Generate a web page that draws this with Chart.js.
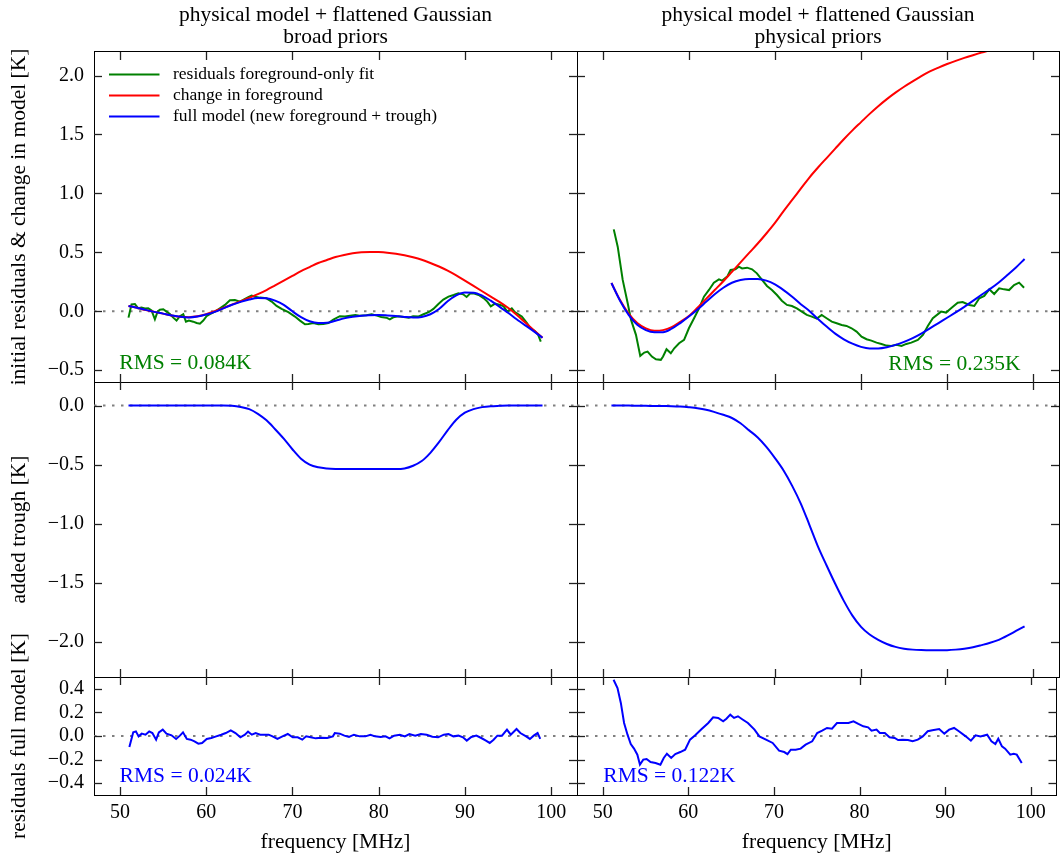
<!DOCTYPE html>
<html>
<head>
<meta charset="utf-8">
<script src="https://cdn.jsdelivr.net/npm/chart.js@4.4.0/dist/chart.umd.min.js"></script>
<style>
  body { margin: 0; background: #fff; }
  #wrap { position: relative; width: 1060px; height: 856px; }
  #wrap canvas { position: absolute; left: 0; top: 0; }
</style>
</head>
<body>
<div id="wrap">
  <canvas id="tl" width="1060" height="856"></canvas>
  <canvas id="tr" width="1060" height="856"></canvas>
  <canvas id="ml" width="1060" height="856"></canvas>
  <canvas id="mr" width="1060" height="856"></canvas>
  <canvas id="bl" width="1060" height="856"></canvas>
  <canvas id="br" width="1060" height="856"></canvas>
</div>
<script>
// frequency grid (MHz) for the smooth model curves
const freqGrid = [51, 52, 53, 54, 55, 56, 57, 58, 59, 60, 61, 62, 63, 64, 65, 66, 67, 68, 69, 70,
  71, 72, 73, 74, 75, 76, 77, 78, 79, 80, 81, 82, 83, 84, 85, 86, 87, 88, 89, 90,
  91, 92, 93, 94, 95, 96, 97, 98, 99];

// axis ticks
const freqTicks = [50, 60, 70, 80, 90, 100];
const topTicks = [-0.5, 0, 0.5, 1, 1.5, 2];
const midTicks = [-2, -1.5, -1, -0.5, 0];
const botTicks = [-0.4, -0.2, 0, 0.2, 0.4];

// broad priors (left column)
const fgChangeBroad = [0.045, 0.03, 0.01, -0.005, -0.02, -0.035, -0.047, -0.05, -0.043, -0.025,
  0.0, 0.028, 0.057, 0.085, 0.115, 0.145, 0.18, 0.22, 0.26, 0.3, 0.34, 0.375, 0.41, 0.435, 0.46,
  0.478, 0.492, 0.5, 0.504, 0.502, 0.497, 0.488, 0.475, 0.458, 0.437, 0.41, 0.38, 0.345, 0.305,
  0.26, 0.215, 0.17, 0.125, 0.08, 0.03, -0.03, -0.095, -0.16, -0.225];
const fullModelBroad = [0.045, 0.03, 0.012, -0.005, -0.02, -0.035, -0.047, -0.052, -0.045, -0.028,
  -0.005, 0.025, 0.055, 0.08, 0.1, 0.112, 0.11, 0.09, 0.055, 0.0, -0.05, -0.085, -0.1, -0.098,
  -0.08, -0.06, -0.047, -0.038, -0.034, -0.032, -0.035, -0.04, -0.048, -0.053, -0.048, -0.025,
  0.02, 0.085, 0.135, 0.16, 0.158, 0.133, 0.09, 0.04, -0.012, -0.068, -0.12, -0.17, -0.225];
const troughBroad = [0, 0, 0, 0, 0, 0, 0, 0, 0, 0, 0, 0, -0.002, -0.012, -0.03, -0.07, -0.125,
  -0.2, -0.28, -0.37, -0.45, -0.5, -0.523, -0.533, -0.537, -0.538, -0.538, -0.538, -0.538, -0.538,
  -0.538, -0.538, -0.533, -0.51, -0.47, -0.4, -0.31, -0.21, -0.12, -0.06, -0.03, -0.013, -0.005,
  -0.002, 0, 0, 0, 0, 0];
const resFgBroad = [[51.0, -0.054], [51.35, 0.059], [51.74, 0.062], [52.13, 0.025], [52.5, 0.031],
  [52.9, 0.023], [53.29, 0.025], [53.67, 0.008], [54.06, -0.068], [54.37, -0.003], [54.64, 0.014],
  [55.03, 0.017], [55.41, -0.003], [55.8, -0.023], [56.19, -0.054], [56.57, -0.079], [56.96, -0.042],
  [57.35, -0.025], [57.66, -0.088], [58.0, -0.079], [58.5, -0.088], [58.9, -0.099], [59.28, -0.105],
  [59.67, -0.079], [60.05, -0.042], [60.44, -0.025], [61.02, -0.003], [61.6, 0.025], [62.18, 0.054],
  [62.76, 0.093], [63.34, 0.096], [63.92, 0.082], [64.3, 0.096], [64.89, 0.121], [65.27, 0.133],
  [65.66, 0.124], [66.24, 0.116], [67.0, 0.11], [67.6, 0.082], [68.17, 0.045], [68.75, 0.02],
  [69.53, -0.008], [70.3, -0.045], [70.88, -0.079], [71.46, -0.11], [71.85, -0.107], [72.43, -0.1],
  [73.0, -0.11], [73.6, -0.107], [74.17, -0.1], [74.75, -0.07], [75.5, -0.042], [76.1, -0.045],
  [76.7, -0.037], [77.3, -0.031], [77.8, -0.037], [78.6, -0.034], [79.2, -0.025], [79.8, -0.037],
  [80.3, -0.048], [80.9, -0.054], [81.3, -0.068], [81.7, -0.051], [82.3, -0.042], [82.9, -0.048],
  [83.5, -0.054], [84.0, -0.042], [84.6, -0.045], [85.2, -0.025], [85.8, -0.008], [86.35, 0.02],
  [86.9, 0.06], [87.5, 0.099], [88.1, 0.124], [88.7, 0.138], [89.25, 0.153], [89.8, 0.144],
  [90.2, 0.121], [90.6, 0.15], [91.0, 0.153], [91.6, 0.138], [92.2, 0.11], [92.6, 0.082],
  [93.0, 0.042], [93.5, 0.065], [94.1, 0.054], [94.5, 0.042], [94.9, -0.003], [95.44, 0.025],
  [95.8, -0.008], [96.2, -0.025], [96.6, -0.045], [97.2, -0.1], [97.6, -0.144], [98.1, -0.167],
  [98.5, -0.2], [98.8, -0.257]];
const resFullBroad = [[51.1, -0.093], [51.55, 0.031], [51.86, 0.039], [52.17, -0.003], [52.53, 0.02],
  [52.97, 0.011], [53.4, 0.039], [53.77, 0.025], [54.2, -0.031], [54.52, 0.031], [54.97, 0.054],
  [55.4, 0.02], [55.99, 0.006], [56.52, -0.025], [56.96, 0.003], [57.32, 0.031], [57.76, -0.025],
  [58.2, -0.031], [58.65, -0.045], [59.1, -0.065], [59.53, -0.059], [60.07, -0.025], [60.6, -0.017],
  [61.17, -0.003], [61.75, 0.011], [62.28, 0.025], [62.86, 0.048], [63.4, 0.025], [63.97, -0.011],
  [64.5, 0.011], [64.86, 0.037], [65.3, 0.011], [65.74, 0.025], [66.27, 0.011], [66.8, 0.011],
  [67.25, 0.011], [67.7, -0.003], [68.27, -0.025], [68.85, -0.003], [69.47, 0.017], [70.04, -0.011],
  [70.62, -0.011], [71.15, -0.031], [71.6, -0.003], [72.13, -0.011], [72.7, -0.02], [73.37, -0.014],
  [74.04, -0.017], [74.7, -0.003], [74.92, 0.025], [75.5, 0.02], [76.03, 0.003], [76.56, -0.008],
  [77.14, 0.011], [77.8, -0.003], [78.47, -0.003], [79.05, 0.011], [79.58, -0.003], [80.24, -0.008],
  [80.8, -0.003], [81.26, -0.02], [81.8, 0.003], [82.46, 0.011], [83.04, -0.003], [83.57, 0.017],
  [84.24, 0.003], [84.9, 0.017], [85.57, 0.011], [86.23, -0.006], [86.9, -0.011], [87.56, 0.011],
  [88.1, 0.017], [88.67, -0.003], [89.25, 0.003], [89.78, -0.011], [90.22, -0.039], [90.75, -0.008],
  [91.33, 0.003], [91.9, -0.017], [92.44, -0.039], [92.88, -0.059], [93.33, -0.031], [93.77, 0.003],
  [94.3, 0.003], [94.88, 0.054], [95.32, 0.011], [95.99, 0.059], [96.43, 0.025], [97.1, -0.003],
  [97.54, -0.025], [97.98, 0.003], [98.43, 0.025], [98.74, -0.025]];

// physical priors (right column)
const fgChangePhys = [0.24, 0.095, -0.02, -0.1, -0.145, -0.165, -0.16, -0.135, -0.09, -0.04,
  0.03, 0.105, 0.18, 0.255, 0.335, 0.415, 0.495, 0.575, 0.66, 0.75, 0.85, 0.945, 1.04, 1.135,
  1.22, 1.3, 1.38, 1.46, 1.535, 1.605, 1.675, 1.74, 1.8, 1.855, 1.905, 1.95, 1.995, 2.035, 2.068,
  2.098, 2.125, 2.15, 2.173, 2.195, 2.215, 2.235, 2.255, 2.272, 2.29];
const fullModelPhys = [0.24, 0.09, -0.03, -0.115, -0.16, -0.178, -0.178, -0.148, -0.1, -0.045,
  0.015, 0.08, 0.145, 0.2, 0.242, 0.265, 0.274, 0.274, 0.26, 0.228, 0.18, 0.124, 0.06, 0.003,
  -0.065, -0.13, -0.19, -0.238, -0.275, -0.302, -0.315, -0.315, -0.305, -0.285, -0.26, -0.228,
  -0.19, -0.145, -0.1, -0.055, -0.01, 0.038, 0.088, 0.14, 0.19, 0.245, 0.308, 0.372, 0.443];
const troughPhys = [0, 0, 0, -0.001, -0.002, -0.003, -0.004, -0.005, -0.008, -0.014, -0.022,
  -0.035, -0.055, -0.078, -0.105, -0.15, -0.21, -0.27, -0.35, -0.445, -0.55, -0.68, -0.83, -1.01,
  -1.195, -1.355, -1.51, -1.655, -1.78, -1.875, -1.94, -1.985, -2.02, -2.045, -2.06, -2.068, -2.072,
  -2.074, -2.074, -2.073, -2.068, -2.06, -2.048, -2.03, -2.01, -1.985, -1.95, -1.91, -1.87];
const resFgPhys = [[51.27, 0.695], [51.73, 0.548], [52.31, 0.266], [52.89, 0.068], [53.28, -0.073],
  [53.85, -0.2], [54.35, -0.378], [54.82, -0.35], [55.2, -0.342], [55.7, -0.384], [56.17, -0.407],
  [56.74, -0.412], [57.0, -0.384], [57.4, -0.322], [57.9, -0.356], [58.3, -0.314], [58.86, -0.271],
  [59.44, -0.243], [60.0, -0.144], [60.6, -0.059], [61.18, 0.025], [61.75, 0.124], [62.33, 0.181],
  [62.9, 0.243], [63.49, 0.271], [63.87, 0.26], [64.45, 0.294], [64.84, 0.35], [65.4, 0.356],
  [65.8, 0.379], [66.18, 0.364], [66.76, 0.37], [67.34, 0.356], [67.9, 0.322], [68.5, 0.266],
  [69.07, 0.215], [69.65, 0.181], [70.23, 0.138], [70.8, 0.09], [71.39, 0.054], [71.97, 0.045],
  [72.54, 0.025], [73.12, -0.003], [73.7, -0.031], [74.28, -0.045], [74.86, -0.062], [75.43, -0.031],
  [76.0, -0.059], [76.6, -0.088], [77.17, -0.102], [77.75, -0.116], [78.32, -0.124], [78.9, -0.144],
  [79.48, -0.172], [80.06, -0.215], [80.64, -0.237], [81.2, -0.249], [81.8, -0.266], [82.37, -0.277],
  [82.95, -0.291], [83.5, -0.294], [84.1, -0.285], [84.7, -0.294], [85.26, -0.277], [85.84, -0.266],
  [86.6, -0.243], [87.19, -0.2], [87.76, -0.124], [88.34, -0.059], [89.3, -0.003], [89.88, -0.011],
  [90.46, 0.025], [91.23, 0.073], [91.81, 0.079], [92.58, 0.054], [93.16, 0.045], [93.74, 0.11],
  [94.32, 0.13], [94.9, 0.186], [95.47, 0.147], [96.05, 0.195], [96.63, 0.186], [97.2, 0.18],
  [97.78, 0.223], [98.36, 0.243], [98.94, 0.2]];
const resFullPhys = [[51.27, 0.477], [51.73, 0.407], [52.12, 0.28], [52.5, 0.11], [52.9, 0.011],
  [53.28, -0.068], [53.66, -0.107], [54.05, -0.158], [54.35, -0.243], [54.74, -0.2], [55.13, -0.195],
  [55.59, -0.22], [56.17, -0.229], [56.74, -0.243], [57.13, -0.186], [57.5, -0.15], [58.0, -0.186],
  [58.48, -0.153], [59.06, -0.136], [59.63, -0.116], [60.2, -0.031], [60.8, 0.006], [61.56, 0.059],
  [62.33, 0.11], [62.9, 0.158], [63.49, 0.153], [64.07, 0.124], [64.45, 0.147], [64.9, 0.181],
  [65.34, 0.153], [65.8, 0.167], [66.38, 0.138], [66.96, 0.11], [67.73, 0.054], [68.3, -0.003],
  [69.07, -0.031], [69.85, -0.059], [70.6, -0.124], [71.2, -0.136], [71.58, -0.153], [71.97, -0.116],
  [72.54, -0.116], [73.12, -0.107], [73.7, -0.073], [74.47, -0.045], [75.05, 0.025], [75.63, 0.045],
  [76.2, 0.068], [76.78, 0.062], [77.36, 0.11], [77.94, 0.11], [78.7, 0.11], [79.29, 0.124],
  [79.86, 0.102], [80.44, 0.082], [81.0, 0.073], [81.4, 0.045], [81.98, 0.054], [82.37, 0.025],
  [82.95, 0.025], [83.5, -0.011], [84.1, -0.017], [84.5, -0.034], [85.07, -0.031], [85.65, -0.034],
  [86.2, -0.045], [86.8, -0.031], [87.38, -0.003], [87.96, 0.04], [88.5, 0.048], [89.3, 0.059],
  [89.9, 0.02], [90.46, 0.054], [91.04, 0.068], [91.6, 0.04], [92.4, -0.003], [93.0, -0.04],
  [93.55, 0.006], [94.12, -0.003], [94.9, 0.011], [95.4, -0.045], [95.86, -0.068], [96.2, -0.023],
  [96.63, -0.088], [97.0, -0.107], [97.6, -0.158], [98.0, -0.15], [98.36, -0.158], [98.94, -0.229]];

const X_MIN = 47, X_MAX = 103;
const SERIF = '"Liberation Serif", "Times New Roman", serif';
const GREEN = '#008000', RED = '#ff0000', BLUE = '#0000ff';

// where each panel's plot area sits on the page
const colBox = { left: { l: 0, r: 483, w: 94 }, right: { l: 577, r: 1, w: 0 } };
const rowBox = { top: { t: 0, b: 474, h: 0 }, mid: { t: 382, b: 179, h: 0 }, bot: { t: 677, b: 0, h: 61 } };

function onGrid(vals) { return freqGrid.map((f, i) => ({ x: f, y: vals[i] })); }
function fromPairs(list) { return list.map(p => ({ x: p[0], y: p[1] })); }
function fmtK(v) { return (v < 0 ? '\u2212' : '') + Math.abs(v).toFixed(1); }

function curve(data, color, extra) {
  return Object.assign({ data, borderColor: color, borderWidth: 2, pointRadius: 0,
    fill: false, tension: 0, xAxisID: 'x', yAxisID: 'y' }, extra || {});
}
function zeroLine() {
  return curve([{ x: X_MIN, y: 0 }, { x: X_MAX, y: 0 }], '#808080',
    { borderDash: [2.5, 6.5], order: 9 });
}

// inward tick marks on all four sides, legend, RMS notes, rotated y titles
const panelText = {
  id: 'panelText',
  afterDraw(chart, args, opts) {
    const { ctx, chartArea: a } = chart;
    ctx.save();

    ctx.strokeStyle = '#222';
    ctx.lineWidth = 1.3;
    Object.values(chart.scales).forEach(s => {
      s.ticks.forEach(t => {
        const p = Math.round(s.getPixelForValue(t.value)) + 0.5;
        ctx.beginPath();
        if (s.isHorizontal()) {
          const y0 = s.position === 'top' ? a.top : a.bottom;
          ctx.moveTo(p, y0);
          ctx.lineTo(p, y0 + (s.position === 'top' ? 8 : -8));
        } else {
          const x0 = s.position === 'left' ? a.left : a.right;
          ctx.moveTo(x0, p);
          ctx.lineTo(x0 + (s.position === 'left' ? 8 : -8), p);
        }
        ctx.stroke();
      });
    });

    ctx.textBaseline = 'middle';
    if (opts.yTitle) {
      ctx.save();
      ctx.font = '21.5px ' + SERIF;
      ctx.fillStyle = '#000';
      ctx.textAlign = 'center';
      ctx.translate(19.5, (a.top + a.bottom) / 2);
      ctx.rotate(-Math.PI / 2);
      ctx.fillText(opts.yTitle, 0, 0);
      ctx.restore();
    }
    if (opts.legend) {
      ctx.font = '17.5px ' + SERIF;
      ctx.textAlign = 'left';
      chart.data.datasets.filter(d => d.label)
        .sort((p, q) => p.legendRank - q.legendRank)
        .forEach((d, i) => {
          const y = a.top + 22.5 + i * 21;
          ctx.strokeStyle = d.borderColor;
          ctx.lineWidth = 2;
          ctx.beginPath();
          ctx.moveTo(a.left + 15, y);
          ctx.lineTo(a.left + 65.5, y);
          ctx.stroke();
          ctx.fillStyle = '#000';
          ctx.fillText(d.label, a.left + 79, y);
        });
    }
    if (opts.rms) {
      ctx.font = '21.5px ' + SERIF;
      ctx.textAlign = 'left';
      ctx.fillStyle = opts.rms.color;
      ctx.fillText(opts.rms.text, a.left + opts.rms.dx, a.bottom - opts.rms.dy);
    }
    ctx.restore();
  }
};

function panel(id, col, row, o) {
  const c = colBox[col], r = rowBox[row];
  const showY = col === 'left', showX = row === 'bot';
  const tickFont = { family: SERIF, size: 20 };
  const noGrid = { display: false, tickLength: -8 };
  const edge = { color: '#000', width: 1 };
  const fixTicks = list => s => { s.ticks = list.map(v => ({ value: v })); };
  return new Chart(document.getElementById(id), {
    type: 'line',
    data: { datasets: o.datasets },
    options: {
      responsive: false,
      animation: false,
      devicePixelRatio: 1,
      layout: { padding: { left: c.l, right: c.r, top: r.t, bottom: r.b } },
      plugins: {
        legend: { display: false },
        tooltip: { enabled: false },
        title: o.title ? {
          display: true, text: o.title, fullSize: false, color: '#000',
          font: { family: SERIF, size: 21.5, weight: 'normal', lineHeight: 1.03 },
          padding: { top: 4, bottom: 3.7 }
        } : { display: false },
        panelText: { yTitle: showY ? o.yTitle : null, legend: !!o.legend, rms: o.rms }
      },
      scales: {
        x: {
          type: 'linear', position: 'bottom', min: X_MIN, max: X_MAX,
          afterBuildTicks: fixTicks(freqTicks),
          afterFit: s => { s.height = r.h; },
          ticks: { display: showX, padding: 14, color: '#000', font: tickFont, callback: v => String(v) },
          grid: noGrid, border: edge,
          title: { display: showX, text: 'frequency [MHz]', color: '#000',
            font: { family: SERIF, size: 21.5 }, padding: { top: 0, bottom: 1 } }
        },
        x2: {
          type: 'linear', position: 'top', min: X_MIN, max: X_MAX,
          afterBuildTicks: fixTicks(freqTicks),
          afterFit: s => { s.height = 0; },
          ticks: { display: false }, grid: noGrid, border: edge
        },
        y: {
          type: 'linear', position: 'left', min: o.yMin, max: o.yMax,
          afterBuildTicks: fixTicks(o.yTicks),
          afterFit: s => { s.width = c.w; },
          ticks: { display: showY, padding: 18, color: '#000', font: tickFont, callback: fmtK },
          grid: noGrid, border: edge
        },
        y2: {
          type: 'linear', position: 'right', min: o.yMin, max: o.yMax,
          afterBuildTicks: fixTicks(o.yTicks),
          afterFit: s => { s.width = 0; },
          ticks: { display: false }, grid: noGrid, border: edge
        }
      }
    },
    plugins: [panelText]
  });
}

const smooth = { cubicInterpolationMode: 'monotone' };

// top row: residuals and change in foreground
panel('tl', 'left', 'top', {
  title: ['physical model + flattened Gaussian', 'broad priors'],
  yTitle: 'initial residuals & change in model [K]',
  yMin: -0.6, yMax: 2.2, yTicks: topTicks, legend: true,
  rms: { text: 'RMS = 0.084K', color: GREEN, dx: 25.3, dy: 18.7 },
  datasets: [
    curve(onGrid(fullModelBroad), BLUE, Object.assign({ label: 'full model (new foreground + trough)', legendRank: 3, order: 0 }, smooth)),
    curve(onGrid(fgChangeBroad), RED, Object.assign({ label: 'change in foreground', legendRank: 2, order: 1 }, smooth)),
    curve(fromPairs(resFgBroad), GREEN, { label: 'residuals foreground-only fit', legendRank: 1, order: 2 }),
    zeroLine()
  ]
});
panel('tr', 'right', 'top', {
  title: ['physical model + flattened Gaussian', 'physical priors'],
  yMin: -0.6, yMax: 2.2, yTicks: topTicks,
  rms: { text: 'RMS = 0.235K', color: GREEN, dx: 311.3, dy: 18 },
  datasets: [
    curve(onGrid(fullModelPhys), BLUE, Object.assign({ order: 0 }, smooth)),
    curve(onGrid(fgChangePhys), RED, Object.assign({ order: 1 }, smooth)),
    curve(fromPairs(resFgPhys), GREEN, { order: 2 }),
    zeroLine()
  ]
});

// middle row: added trough
panel('ml', 'left', 'mid', {
  yTitle: 'added trough [K]', yMin: -2.3, yMax: 0.2, yTicks: midTicks,
  datasets: [curve(onGrid(troughBroad), BLUE, Object.assign({ order: 0 }, smooth)), zeroLine()]
});
panel('mr', 'right', 'mid', {
  yMin: -2.3, yMax: 0.2, yTicks: midTicks,
  datasets: [curve(onGrid(troughPhys), BLUE, Object.assign({ order: 0 }, smooth)), zeroLine()]
});

// bottom row: residuals of the full model
panel('bl', 'left', 'bot', {
  yTitle: 'residuals full model [K]', yMin: -0.5, yMax: 0.5, yTicks: botTicks,
  rms: { text: 'RMS = 0.024K', color: BLUE, dx: 25.6, dy: 18.3 },
  datasets: [curve(fromPairs(resFullBroad), BLUE, { order: 0 }), zeroLine()]
});
panel('br', 'right', 'bot', {
  yMin: -0.5, yMax: 0.5, yTicks: botTicks,
  rms: { text: 'RMS = 0.122K', color: BLUE, dx: 26.3, dy: 19 },
  datasets: [curve(fromPairs(resFullPhys), BLUE, { order: 0 }), zeroLine()]
});
</script>
</body>
</html>
